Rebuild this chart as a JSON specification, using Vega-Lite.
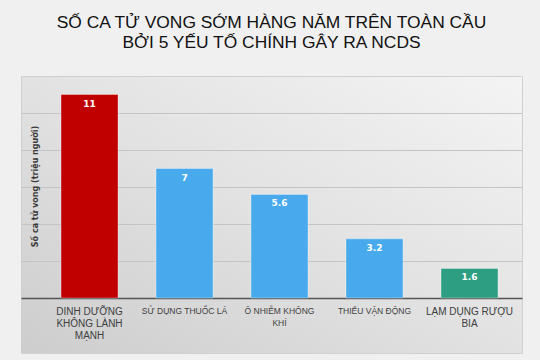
{
  "$schema": "https://vega.github.io/schema/vega-lite/v6.json",
  "autosize": {"type": "none"},
  "width": 501,
  "height": 277,
  "padding": {"left": 21, "top": 76, "right": 18, "bottom": 7},
  "background": "#f0f0f0",
  "config": {
    "view": {
      "stroke": "#d0d0d0",
      "strokeWidth": 1,
      "fill": {
        "gradient": "linear",
        "x1": 1, "y1": 0, "x2": 0, "y2": 1,
        "stops": [
          {"offset": 0, "color": "#f4f4f4"},
          {"offset": 0.5, "color": "#e2e2e2"},
          {"offset": 1, "color": "#cdcdcd"}
        ]
      }
    }
  },
  "title": {
    "text": ["SỐ CA TỬ VONG SỚM HÀNG NĂM TRÊN TOÀN CẦU", "BỞI 5 YẾU TỐ CHÍNH GÂY RA NCDS"],
    "font": "Liberation Sans",
    "fontSize": 17.4,
    "fontWeight": "normal",
    "color": "#111111",
    "lineHeight": 20,
    "anchor": "middle",
    "offset": 25
  },
  "data": {
    "values": [
      {"factor": "DINH DƯỠNG|KHÔNG LÀNH|MẠNH", "value": 11, "group": "a"},
      {"factor": "SỬ DỤNG THUỐC LÁ", "value": 7, "group": "b"},
      {"factor": "Ô NHIỄM KHÔNG|KHÍ", "value": 5.6, "group": "b"},
      {"factor": "THIẾU VẬN ĐỘNG", "value": 3.2, "group": "b"},
      {"factor": "LẠM DỤNG RƯỢU|BIA", "value": 1.6, "group": "c"}
    ]
  },
  "encoding": {
    "x": {
      "field": "factor",
      "type": "nominal",
      "sort": null,
      "scale": {"paddingInner": 0.4, "paddingOuter": 0.337, "align": 0.625},
      "axis": {
        "title": null,
        "orient": "bottom",
        "offset": -55,
        "labelAngle": 0,
        "labelExpr": "split(datum.label, '|')",
        "labelFont": "Liberation Sans",
        "labelFontSize": {"condition": {"test": "datum.label == 'SỬ DỤNG THUỐC LÁ' || datum.label == 'THIẾU VẬN ĐỘNG' || datum.label == 'Ô NHIỄM KHÔNG|KHÍ'", "value": 8.5}, "value": 10},
        "labelColor": "#404040",
        "labelLineHeight": 12,
        "labelPadding": 8,
        "labelBaseline": "top",
        "ticks": false,
        "domain": true,
        "domainColor": "#555555",
        "domainWidth": 1.5,
        "labelLimit": 200
      }
    },
    "y": {
      "field": "value",
      "type": "quantitative",
      "scale": {"domain": [-2.97, 12], "nice": false, "zero": false},
      "axis": {
        "title": "Số ca tử vong (triệu người)",
        "titleFont": "DejaVu Sans",
        "titleFontSize": 8,
        "titleFontWeight": "bold",
        "titleColor": "#3a3a3a",
        "titleAngle": -90,
        "titleX": 14,
        "titleY": 110,
        "titleAlign": "center",
        "titleBaseline": "middle",
        "values": [2, 4, 6, 8, 10],
        "labels": false,
        "ticks": false,
        "domain": false,
        "grid": true,
        "gridColor": "#c4c4c4",
        "gridWidth": 1
      }
    }
  },
  "layer": [
    {
      "mark": {"type": "bar", "stroke": "#ffffff", "strokeOpacity": 0.35, "strokeWidth": 1},
      "encoding": {
        "y2": {"datum": 0},
        "color": {
          "field": "group",
          "type": "nominal",
          "scale": {"domain": ["a", "b", "c"], "range": ["#c00000", "#48aaec", "#2e9e82"]},
          "legend": null
        }
      }
    },
    {
      "mark": {"type": "text", "color": "#ffffff", "font": "DejaVu Sans", "fontWeight": "bold", "fontSize": 9, "baseline": "middle", "dy": 9},
      "encoding": {
        "text": {"field": "value", "type": "quantitative"}
      }
    }
  ]
}
